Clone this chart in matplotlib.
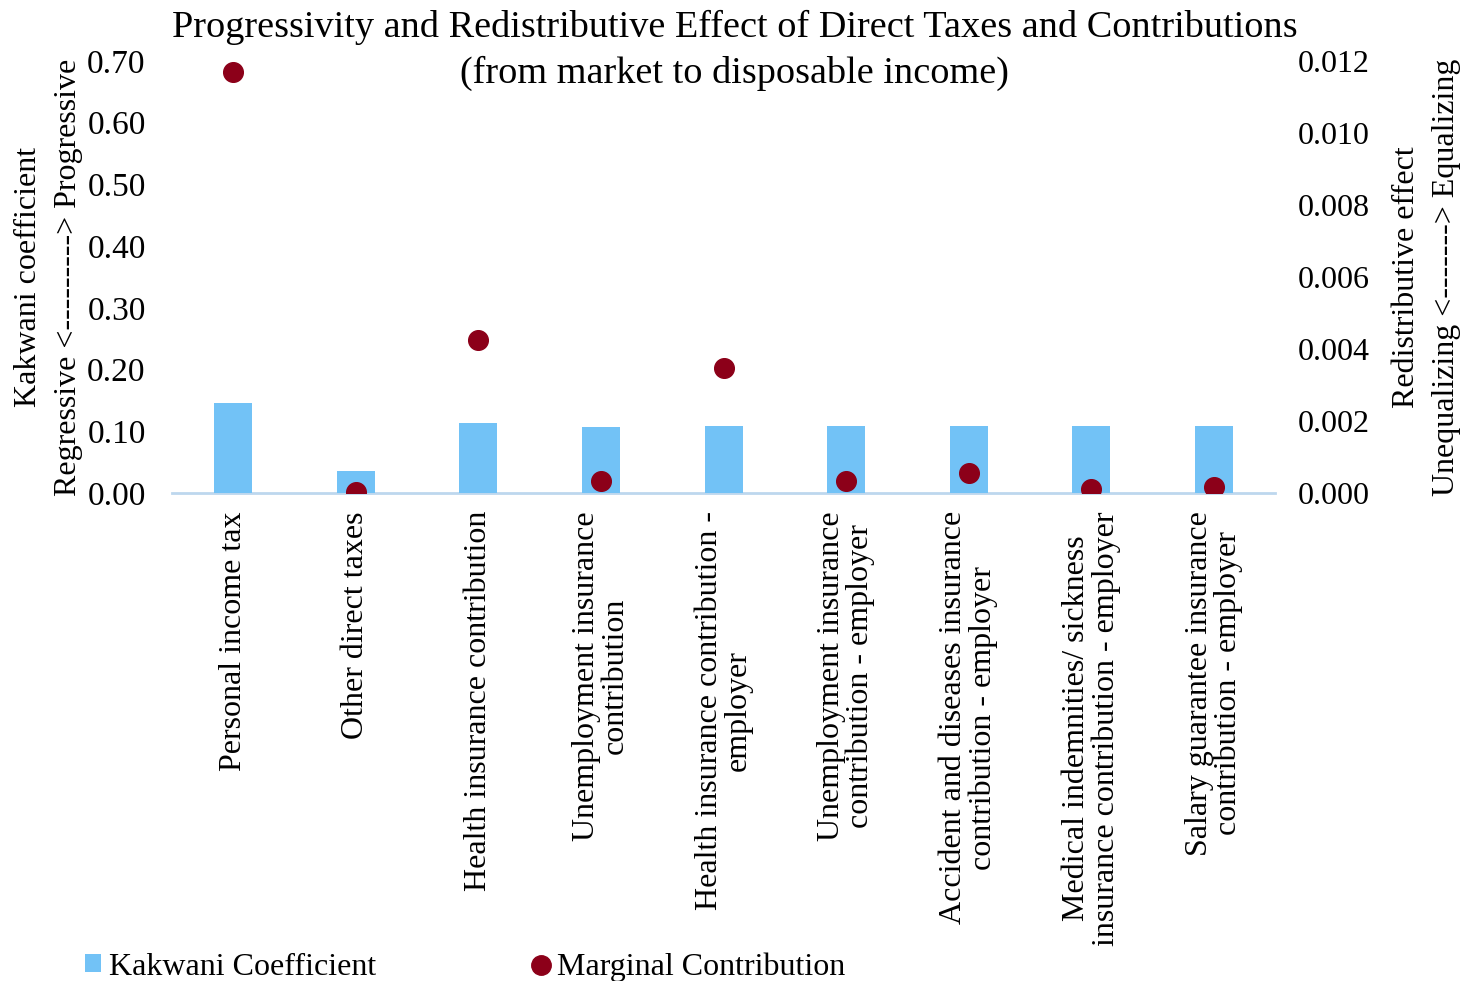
import matplotlib
matplotlib.use("Agg")
import matplotlib.pyplot as plt
from matplotlib.lines import Line2D
from matplotlib.patches import Patch
import numpy as np

plt.rcParams['font.family'] = ['Liberation Serif', 'DejaVu Serif']

categories = [
    "Personal income tax",
    "Other direct taxes",
    "Health insurance contribution",
    "Unemployment insurance\ncontribution",
    "Health insurance contribution -\nemployer",
    "Unemployment insurance\ncontribution - employer",
    "Accident and diseases insurance\ncontribution - employer",
    "Medical indemnities/ sickness\ninsurance contribution - employer",
    "Salary guarantee insurance\ncontribution - employer",
]
kakwani = [0.145, 0.036, 0.113, 0.107, 0.108, 0.108, 0.108, 0.108, 0.108]
marginal = [0.01169, 0.00004, 0.00424, 0.000325, 0.00346, 0.000325, 0.000555, 0.00011, 0.000175]

left_ticks = [0.0, 0.1, 0.2, 0.3, 0.4, 0.5, 0.6, 0.7]
right_ticks = [0.0, 0.002, 0.004, 0.006, 0.008, 0.010, 0.012]

bar_color = '#72C2F6'
dot_color = '#8C0019'
axis_color = '#BDD7EE'
fs = 23

fig = plt.figure(figsize=(14.64, 9.81), dpi=100)
ax = fig.add_axes([0.1175, 0.4975, 0.7535, 0.4405])
ax2 = ax.twinx()

x = np.arange(len(categories))
ax.bar(x, kakwani, width=0.31, color=bar_color, zorder=2)
ax2.scatter(x, marginal, s=200, color=dot_color, zorder=3)

ax.set_xlim(-0.5, len(categories) - 0.5)
ax.set_ylim(0, 0.7)
ax2.set_ylim(0, 0.012)
ax.set_yticks(left_ticks)
ax.set_yticklabels([f"{v:.2f}" for v in left_ticks], fontsize=24)
ax2.set_yticks(right_ticks)
ax2.set_yticklabels([f"{v:.3f}" for v in right_ticks], fontsize=fs)
ax.set_xticks(x)
ax.set_xticklabels(categories, rotation=90, fontsize=fs, va='top', ha='center',
                   multialignment='center', linespacing=1.0)

for a in (ax, ax2):
    for s in a.spines.values():
        s.set_visible(False)
    a.tick_params(length=0)
ax.tick_params(axis='y', pad=19)
ax.tick_params(axis='x', pad=13)
ax2.tick_params(axis='y', pad=16)
ax.axhline(0, color=axis_color, lw=2, zorder=1, clip_on=False)

ax.set_ylabel("Kakwani coefficient\nRegressive <---------> Progressive", fontsize=fs,
              linespacing=1.5, labelpad=3)
ax2.set_ylabel("Redistributive effect\nUnequalizing <-------> Equalizing", fontsize=fs,
               linespacing=1.5, labelpad=16)

fig.text(0.502, 0.99, "Progressivity and Redistributive Effect of Direct Taxes and Contributions\n(from market to disposable income)",
         ha='center', va='top', fontsize=27.5, linespacing=1.38)

handles = [Patch(facecolor=bar_color, edgecolor='none', label='Kakwani Coefficient'),
           Line2D([0], [0], marker='o', linestyle='none', markersize=14, color=dot_color,
                  label='Marginal Contribution')]
fig.legend(handles=handles, loc='lower left', bbox_to_anchor=(0.056, -0.004), ncol=2,
           frameon=False, fontsize=fs, handlelength=0.5, handletextpad=0.25,
           columnspacing=4.9, handleheight=0.5, borderpad=0.1, borderaxespad=0)

fig.savefig("out.png", dpi=100)
